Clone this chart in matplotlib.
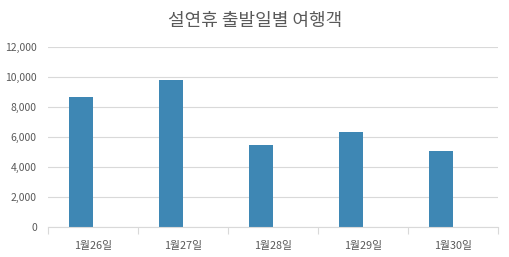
import matplotlib
matplotlib.use('Agg')
import matplotlib.pyplot as plt
import numpy as np
from matplotlib.ticker import FuncFormatter, FixedLocator

plt.rcParams['font.family'] = ['Noto Sans CJK KR', 'DejaVu Sans']

# --- 데이터 ---
categories = ['1월26일', '1월27일', '1월28일', '1월29일', '1월30일']
travelers = [8700, 9800, 5480, 6350, 5090]
title = '설연휴 출발일별 여행객'

BAR_COLOR = '#3e87b4'
TEXT_COLOR = '#595959'
GRID_COLOR = '#d9d9d9'

fig = plt.figure(figsize=(5.10, 2.57), dpi=100)
ax = fig.add_axes([0.094, 0.1167, 0.882, 0.700])

x = np.arange(len(categories))
bar_w = 0.267
# 엑셀 묶은 세로 막대 (두 번째 계열이 비어 있어 왼쪽으로 치우침)
ax.bar(x - bar_w / 2, travelers, width=bar_w, color=BAR_COLOR, zorder=2)

ax.set_xlim(-0.5, len(categories) - 0.5)
ax.set_ylim(0, 12000)
ax.set_yticks(np.arange(0, 12001, 2000))
ax.yaxis.set_major_formatter(FuncFormatter(lambda v, p: f'{int(v):,}'))
ax.grid(axis='y', color=GRID_COLOR, linewidth=0.8, zorder=0)
ax.set_axisbelow(True)

ax.set_xticks(x)
ax.set_xticklabels(categories)
ax.xaxis.set_minor_locator(FixedLocator(np.arange(-0.5, len(categories), 1.0)))
ax.tick_params(axis='x', which='major', length=0, pad=10, labelsize=7.8, labelcolor=TEXT_COLOR)
ax.tick_params(axis='x', which='minor', length=5, width=0.8, color=GRID_COLOR)
ax.tick_params(axis='y', length=0, pad=8, labelsize=7.5, labelcolor=TEXT_COLOR)

for s in ['top', 'right', 'left']:
    ax.spines[s].set_visible(False)
ax.spines['bottom'].set_color(GRID_COLOR)
ax.spines['bottom'].set_linewidth(0.8)

fig.text(0.5, 0.918, title, ha='center', va='center', fontsize=13, color=TEXT_COLOR)

plt.savefig('out.png', dpi=100, facecolor='white')
plt.close()
